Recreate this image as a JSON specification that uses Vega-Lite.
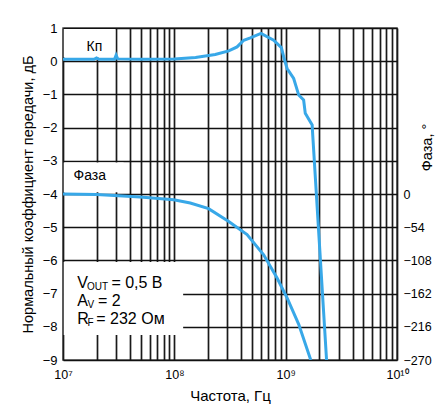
{
  "$schema": "https://vega.github.io/schema/vega-lite/v6.json",
  "width": 334,
  "height": 332,
  "autosize": {"type": "none"},
  "padding": {"left": 63, "top": 28, "right": 47, "bottom": 59},
  "background": "white",
  "config": {
    "font": "Liberation Sans",
    "view": {"stroke": "#555", "strokeWidth": 1.5},
    "axis": {"labelColor": "black", "titleColor": "black", "titleFontWeight": "normal", "labelFont": "Liberation Sans", "titleFont": "Liberation Sans"}
  },
  "datasets": {
    "gain": [
      {"f": 1e7, "db": 0.06}, {"f": 1.9e7, "db": 0.06}, {"f": 2.0e7, "db": 0.1}, {"f": 2.1e7, "db": 0.06},
      {"f": 2.9e7, "db": 0.06}, {"f": 3.0e7, "db": 0.18}, {"f": 3.1e7, "db": 0.07}, {"f": 5e7, "db": 0.06},
      {"f": 1e8, "db": 0.07}, {"f": 1.55e8, "db": 0.11}, {"f": 2.33e8, "db": 0.2}, {"f": 3.08e8, "db": 0.31},
      {"f": 3.66e8, "db": 0.43}, {"f": 4.2e8, "db": 0.63}, {"f": 4.82e8, "db": 0.7}, {"f": 6.0e8, "db": 0.84},
      {"f": 7.8e8, "db": 0.63}, {"f": 9.15e8, "db": 0.41}, {"f": 9.6e8, "db": 0.13}, {"f": 1.03e9, "db": -0.22},
      {"f": 1.18e9, "db": -0.52}, {"f": 1.31e9, "db": -1.02}, {"f": 1.45e9, "db": -1.17}, {"f": 1.5e9, "db": -1.57},
      {"f": 1.73e9, "db": -1.92}, {"f": 1.75e9, "db": -2.22}, {"f": 2.33e9, "db": -9}
    ],
    "phase": [
      {"f": 1e7, "deg": 0}, {"f": 2e7, "deg": -1}, {"f": 3.16e7, "deg": -3}, {"f": 4.94e7, "deg": -4.9},
      {"f": 9.86e7, "deg": -9.2}, {"f": 1.39e8, "deg": -14.6}, {"f": 2.03e8, "deg": -23.8}, {"f": 3.08e8, "deg": -44.8},
      {"f": 4.5e8, "deg": -65.9}, {"f": 6.34e8, "deg": -98.8}, {"f": 8.37e8, "deg": -136.6}, {"f": 1.03e9, "deg": -169},
      {"f": 1.31e9, "deg": -212}, {"f": 1.68e9, "deg": -270}
    ],
    "boxes": [
      {"f1": 1.015e7, "f2": 2.95e7, "y1": 0.12, "y2": 0.97},
      {"f1": 1.015e7, "f2": 3.5e7, "y1": -3.05, "y2": -3.95},
      {"f1": 1.015e7, "f2": 1.2e8, "y1": -6.05, "y2": -8.25}
    ],
    "texts": [
      {"g": "lbl", "f": 1.63e7, "y": 0.43, "t": "Кп"},
      {"g": "lbl", "f": 1.245e7, "y": -3.47, "t": "Фаза"},
      {"g": "main", "f": 1.34e7, "y": -6.68, "t": "V"},
      {"g": "main", "f": 2.72e7, "y": -6.68, "t": "= 0,5 В"},
      {"g": "main", "f": 1.34e7, "y": -7.23, "t": "A"},
      {"g": "main", "f": 2.06e7, "y": -7.23, "t": "= 2"},
      {"g": "main", "f": 1.34e7, "y": -7.78, "t": "R"},
      {"g": "main", "f": 1.99e7, "y": -7.78, "t": "= 232 Ом"},
      {"g": "sub", "f": 1.64e7, "y": -6.68, "t": "OUT"},
      {"g": "sub", "f": 1.656e7, "y": -7.23, "t": "V"},
      {"g": "sub", "f": 1.656e7, "y": -7.78, "t": "F"}
    ]
  },
  "layer": [
    {
      "data": {"name": "boxes"},
      "mark": {"type": "rect", "fill": "white", "stroke": null},
      "encoding": {
        "x": {"field": "f1", "type": "quantitative", "scale": {"type": "log", "domain": [1e7, 1e10]},
          "axis": {
            "orient": "bottom",
            "values": [1e7, 2e7, 3e7, 4e7, 5e7, 6e7, 7e7, 8e7, 9e7, 1e8, 2e8, 3e8, 4e8, 5e8, 6e8, 7e8, 8e8, 9e8, 1e9, 2e9, 3e9, 4e9, 5e9, 6e9, 7e9, 8e9, 9e9, 1e10],
            "labelExpr": "datum.value == 1e7 ? '10⁷' : datum.value == 1e8 ? '10⁸' : datum.value == 1e9 ? '10⁹' : datum.value == 1e10 ? '10¹⁰' : ''",
            "grid": true, "gridColor": "#1a1a1a", "gridWidth": 1.7, "gridOpacity": 1,
            "ticks": false, "domain": false,
            "labelFontSize": 12.5, "labelPadding": 8, "labelFlush": false, "labelOverlap": false,
            "title": "Частота, Гц", "titleFontSize": 15, "titlePadding": 8, "titleFontWeight": "normal"
          }},
        "x2": {"field": "f2"},
        "y": {"field": "y1", "type": "quantitative", "scale": {"domain": [-9, 1], "nice": false, "zero": false},
          "axis": {
            "orient": "left", "values": [-9, -8, -7, -6, -5, -4, -3, -2, -1, 0, 1],
            "labelExpr": "replace(datum.label, '-', '−')",
            "grid": true, "gridColor": "#111", "gridWidth": 1.7, "gridOpacity": 1,
            "ticks": false, "domain": false, "labelOverlap": false,
            "labelFontSize": 13, "labelPadding": 6,
            "title": "Нормальный коэффициент передачи, дБ", "titleFontSize": 14.5, "titlePadding": 7, "titleFontWeight": "normal"
          }},
        "y2": {"field": "y2"}
      }
    },
    {
      "data": {"name": "gain"},
      "mark": {"type": "line", "color": "#38a8e8", "strokeWidth": 3, "clip": true},
      "encoding": {
        "x": {"field": "f", "type": "quantitative"},
        "y": {"field": "db", "type": "quantitative", "scale": {"domain": [-9, 1], "nice": false, "zero": false}, "axis": null}
      }
    },
    {
      "data": {"name": "texts"},
      "transform": [{"filter": "datum.g == 'lbl'"}],
      "mark": {"type": "text", "fontSize": 14, "align": "left", "baseline": "middle", "color": "black"},
      "encoding": {
        "x": {"field": "f", "type": "quantitative"},
        "y": {"field": "y", "type": "quantitative", "scale": {"domain": [-9, 1], "nice": false, "zero": false}, "axis": null},
        "text": {"field": "t"}
      }
    },
    {
      "data": {"name": "texts"},
      "transform": [{"filter": "datum.g == 'main'"}],
      "mark": {"type": "text", "fontSize": 16, "align": "left", "baseline": "middle", "color": "black"},
      "encoding": {
        "x": {"field": "f", "type": "quantitative"},
        "y": {"field": "y", "type": "quantitative", "scale": {"domain": [-9, 1], "nice": false, "zero": false}, "axis": null},
        "text": {"field": "t"}
      }
    },
    {
      "data": {"name": "texts"},
      "transform": [{"filter": "datum.g == 'sub'"}],
      "mark": {"type": "text", "fontSize": 10, "align": "left", "baseline": "middle", "dy": 4, "color": "black"},
      "encoding": {
        "x": {"field": "f", "type": "quantitative"},
        "y": {"field": "y", "type": "quantitative", "scale": {"domain": [-9, 1], "nice": false, "zero": false}, "axis": null},
        "text": {"field": "t"}
      }
    },
    {
      "data": {"name": "phase"},
      "mark": {"type": "line", "color": "#38a8e8", "strokeWidth": 3, "clip": true},
      "encoding": {
        "x": {"field": "f", "type": "quantitative"},
        "y": {"field": "deg", "type": "quantitative", "scale": {"domain": [-270, 270], "nice": false, "zero": false},
          "axis": {
            "orient": "right", "values": [0, -54, -108, -162, -216, -270],
            "labelExpr": "replace(datum.label, '-', '−')",
            "grid": false, "ticks": false, "domain": false, "labelOverlap": false,
            "labelFontSize": 12.5, "labelPadding": 6,
            "title": "Фаза, °", "titleFontSize": 14.5, "titleAngle": 270, "titleFontWeight": "normal",
            "titleX": 30, "titleY": 119, "titleAlign": "center", "titleBaseline": "middle"
          }}
      }
    }
  ],
  "resolve": {"scale": {"y": "independent"}}
}
